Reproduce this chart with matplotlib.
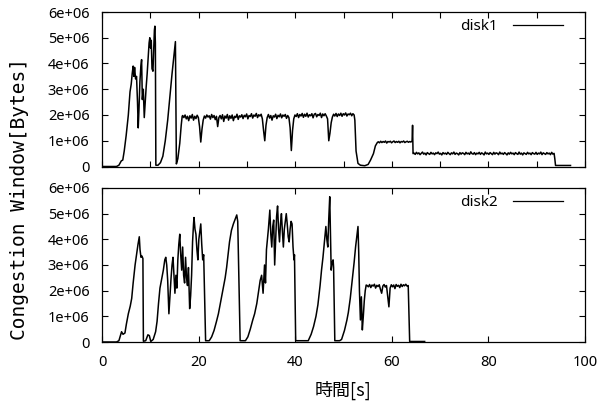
import numpy as np
import matplotlib
matplotlib.use("Agg")
import matplotlib.pyplot as plt

# ---------------- data (time [s], cwnd [1e6 bytes]) ----------------
disk1_ramp_t = [0, 3.0, 3.5, 4.0, 4.3, 4.6, 5.0, 5.45, 5.8, 6.05, 6.25, 6.45, 6.6, 6.75, 6.95,
                7.15, 7.35, 7.5, 7.65, 7.85, 8.05, 8.2, 8.35, 8.55, 8.75, 8.95, 9.15, 9.35, 9.55,
                9.75, 9.9, 10.05, 10.2, 10.35, 10.55, 10.7, 10.85, 10.95, 11.05, 11.15, 11.6, 12.1,
                12.6, 13.1, 13.6, 14.1, 14.5, 14.9, 15.2, 15.4, 15.7, 16.1, 16.4, 16.6]
disk1_ramp_v = [0, 0, 0.05, 0.22, 0.25, 0.6, 1.2, 2.0, 2.9, 3.2, 3.6, 3.9, 3.5, 3.85, 3.4,
                3.5, 2.5, 1.5, 2.2, 3.3, 3.9, 4.15, 2.6, 3.0, 1.9, 2.5, 3.1, 3.6, 4.2,
                4.8, 5.0, 4.6, 4.9, 3.8, 3.7, 4.5, 5.3, 5.45, 4.8, 0.05, 0.05, 0.15,
                0.4, 1.0, 1.8, 2.8, 3.6, 4.3, 4.85, 0.1, 0.3, 0.9, 1.6, 1.95]
disk1_plat1_start = 16.7
disk1_plat1_step = 0.25
disk1_plat1 = [1.98, 1.90, 2.00, 1.85, 1.95, 1.78, 1.97, 1.88, 2.02, 1.80,
               1.95, 1.86, 1.99, 1.90, 1.55, 0.95, 1.45, 1.80, 1.96, 1.88,
               2.00, 1.92, 1.97, 1.84, 2.02, 1.90, 1.98, 1.82, 1.95, 1.55,
               1.90, 1.98, 1.85, 2.01, 1.75, 1.96, 1.88, 2.02, 1.80, 1.97,
               1.87, 2.00, 1.78, 1.95, 1.90, 2.03, 1.83, 1.97, 1.92, 2.01,
               1.86, 1.99, 1.93, 2.04, 1.85, 1.98, 1.94, 2.05, 1.88, 2.00,
               1.95, 2.06, 1.90, 2.01, 1.96, 2.03, 1.85, 1.40, 1.00, 1.60,
               1.90, 2.02, 1.88, 1.98, 1.80, 1.97, 1.92, 2.03, 1.86, 1.99,
               1.93, 2.04, 1.89, 2.00, 1.95, 2.02, 1.87, 1.98, 1.90, 1.50,
               0.62, 1.40, 1.85, 2.00, 1.94, 2.05, 1.90, 2.02, 1.96, 2.06,
               1.91, 2.03, 1.95, 2.07, 1.92, 2.01, 1.97, 2.05, 1.89, 2.03,
               2.06, 1.93, 2.02, 1.98, 2.07, 1.90, 2.04, 1.97, 2.05, 1.96,
               1.85, 1.00, 1.30, 1.70, 1.92, 2.03, 1.96, 2.06, 1.94, 2.04,
               1.98, 2.07, 1.95, 2.05, 2.00, 2.08, 1.96, 2.04, 2.01, 2.07,
               1.97, 2.05, 2.00]
disk1_drop_t = [52.35, 52.6, 53.0, 53.5, 54.4, 55.1, 55.6, 56.2, 56.6, 57.0]
disk1_drop_v = [1.8, 0.6, 0.12, 0.05, 0.03, 0.08, 0.25, 0.5, 0.8, 0.93]
disk1_plat2_start = 57.2
disk1_plat2_step = 0.25
disk1_plat2 = [0.96, 0.92, 0.98, 0.93, 0.97, 0.94, 0.99, 0.91, 0.97, 0.95,
               0.98, 0.92, 0.96, 0.99, 0.93, 0.97, 0.94, 0.98, 0.92, 0.97,
               0.95, 0.99, 0.93, 0.96, 0.98, 0.94, 0.97, 0.95, 0.99]
disk1_spike_t = [64.3, 64.4]
disk1_spike_v = [1.6, 0.5]
disk1_plat3_start = 64.6
disk1_plat3_step = 0.25
disk1_plat3 = [0.52, 0.47, 0.55, 0.49, 0.53, 0.46, 0.51, 0.56, 0.48, 0.52,
               0.45, 0.54, 0.50, 0.47, 0.55, 0.49, 0.52, 0.46, 0.53, 0.50,
               0.56, 0.48, 0.51, 0.45, 0.54, 0.49, 0.52, 0.47, 0.55, 0.50,
               0.46, 0.53, 0.49, 0.56, 0.47, 0.52, 0.50, 0.45, 0.54, 0.48,
               0.53, 0.51, 0.46, 0.55, 0.49, 0.52, 0.47, 0.57, 0.50, 0.48,
               0.54, 0.46, 0.52, 0.49, 0.55, 0.47, 0.53, 0.50, 0.45, 0.56,
               0.49, 0.52, 0.47, 0.54, 0.50, 0.46, 0.55, 0.48, 0.53, 0.51,
               0.46, 0.56, 0.49, 0.52, 0.47, 0.54, 0.50, 0.45, 0.53, 0.48,
               0.55, 0.49, 0.52, 0.46, 0.54, 0.50, 0.47, 0.56, 0.48, 0.52,
               0.45, 0.53, 0.50, 0.47, 0.55, 0.49, 0.52, 0.46, 0.54, 0.50,
               0.48, 0.55, 0.47, 0.52, 0.49, 0.56, 0.46, 0.53, 0.50, 0.47,
               0.54, 0.49, 0.52, 0.46, 0.55, 0.48, 0.51]
disk1_tail_t = [93.75, 93.9, 97.0]
disk1_tail_v = [0.3, 0.04, 0.04]

disk2_ramp_t = [0, 3.0, 3.5, 4.05, 4.35, 4.75, 5.05, 5.45, 5.85, 6.15, 6.45, 6.85, 7.15, 7.45, 7.72,
                7.87, 8.07, 8.27, 8.47, 8.57, 9.05, 9.5, 9.8, 10.1, 10.6, 11.1, 11.4, 11.7, 12.0,
                12.3, 12.7, 13.0, 13.2, 13.4, 13.6, 13.85, 14.1, 14.3, 14.5, 14.7, 14.9, 15.1,
                15.3, 15.5, 15.7, 15.9, 16.1, 16.3, 16.5, 16.7, 16.9, 17.1, 17.3, 17.5, 17.7,
                17.9, 18.15, 18.35, 18.55, 18.75, 18.95, 19.05, 19.25, 19.45, 19.65, 19.85,
                20.05, 20.25, 20.45, 20.65, 20.85, 21.05, 21.45, 22.2, 22.7, 23.2, 23.7, 24.1,
                24.6, 25.1, 25.5, 25.8, 26.1, 26.4, 26.8, 27.2, 27.6, 27.9, 28.1, 28.6, 29.7,
                30.2, 30.7, 31.2, 31.6, 32.05, 32.45, 32.75, 33.05, 33.25, 33.35, 33.55, 33.65,
                33.85, 34.05, 34.25, 34.45, 34.65, 34.75, 34.95, 35.15, 35.35, 35.55, 35.75,
                35.95, 36.15, 36.35, 36.55, 36.75, 36.95, 37.15, 37.35, 37.55, 37.75, 37.95,
                38.15, 38.35, 38.55, 38.75, 38.95, 39.15, 39.35, 39.55, 39.75, 39.85, 40.1,
                42.7, 43.3, 43.8, 44.3, 44.7, 45.15, 45.45, 45.75, 46.05, 46.35, 46.55, 46.75,
                46.95, 47.15, 47.3, 47.45, 47.65, 47.85, 47.95, 48.2, 49.2, 49.6, 50.2, 50.7,
                51.0, 51.4, 51.8, 52.2, 52.5, 52.8, 53.0, 53.15, 53.3, 53.5, 53.7, 53.9, 54.1,
                54.3, 54.5, 54.7]
disk2_ramp_v = [0, 0, 0.05, 0.4, 0.3, 0.35, 0.7, 1.1, 1.4, 1.7, 2.3, 3.0, 3.4, 3.8, 4.1,
                3.6, 3.3, 3.35, 3.25, 0.03, 0.05, 0.28, 0.25, 0.02, 0.1, 0.4, 0.8, 1.5, 2.1,
                2.4, 2.8, 3.2, 3.3, 3.0, 2.4, 1.1, 1.9, 2.5, 3.0, 3.3, 2.6, 1.9,
                2.6, 2.1, 3.2, 3.8, 4.2, 3.4, 2.8, 3.7, 2.6, 2.3, 3.3, 2.5, 2.2,
                2.9, 1.3, 1.8, 2.6, 3.9, 4.6, 4.85, 4.4, 4.2, 3.6, 3.2,
                4.0, 4.3, 4.6, 3.8, 3.2, 3.4, 0.05, 0.05, 0.2, 0.45, 0.8, 1.1,
                1.6, 2.1, 2.5, 2.9, 3.4, 3.9, 4.35, 4.6, 4.8, 4.95, 4.7, 0.05, 0.05,
                0.2, 0.5, 0.85, 1.1, 1.5, 2.0, 2.4, 2.6, 2.1, 1.9, 2.6, 3.0,
                2.3, 3.6, 4.0, 4.4, 4.9, 5.14, 4.2, 3.7, 4.5, 4.75, 3.0,
                4.0, 4.9, 5.3, 4.4, 3.9, 4.6, 5.0, 4.3, 3.7, 4.4, 4.7,
                5.0, 4.6, 4.1, 3.9, 4.4, 4.7, 4.6, 3.7, 3.2, 3.4, 0.05,
                0.05, 0.3, 0.6, 1.0, 1.45, 2.2, 2.8, 3.3, 3.9, 4.5, 4.0, 3.7,
                4.8, 5.66, 4.2, 2.8, 3.1, 3.2, 2.9, 0.05, 0.05, 0.1, 0.45, 0.85,
                1.15, 1.7, 2.4, 3.1, 3.7, 4.2, 4.5, 3.5, 2.0, 0.86, 1.76, 0.47, 1.0,
                1.6, 2.0, 2.22]
disk2_plat_start = 54.9
disk2_plat_step = 0.25
disk2_plat = [2.20, 2.15, 2.24, 2.12, 2.22, 2.18, 2.25, 2.10, 2.21, 2.16,
              2.23, 2.05, 1.90, 2.18, 2.24, 2.14, 2.20, 1.80, 1.37, 2.10,
              2.23, 2.15, 2.22, 2.08, 2.24, 2.17, 2.21, 2.12, 2.25, 2.16,
              2.23, 2.19, 2.25, 2.18]
disk2_tail_t = [63.4, 63.7, 66.8]
disk2_tail_v = [2.2, 0.02, 0.02]

y_ticks = [0, 1e6, 2e6, 3e6, 4e6, 5e6, 6e6]
y_ticklabels = ["0", "1e+06", "2e+06", "3e+06", "4e+06", "5e+06", "6e+06"]
x_ticks_bottom = [0, 20, 40, 60, 80, 100]
x_ticks_top = [0, 10, 20, 30, 40, 50, 60, 70, 80, 90, 100]


def plateau_times(start, step, values):
    return list(start + step * np.arange(len(values)))


t1 = (disk1_ramp_t + plateau_times(disk1_plat1_start, disk1_plat1_step, disk1_plat1)
      + disk1_drop_t + plateau_times(disk1_plat2_start, disk1_plat2_step, disk1_plat2)
      + disk1_spike_t + plateau_times(disk1_plat3_start, disk1_plat3_step, disk1_plat3)
      + disk1_tail_t)
v1 = (disk1_ramp_v + disk1_plat1 + disk1_drop_v + disk1_plat2 + disk1_spike_v
      + disk1_plat3 + disk1_tail_v)
t2 = (disk2_ramp_t + plateau_times(disk2_plat_start, disk2_plat_step, disk2_plat)
      + disk2_tail_t)
v2 = disk2_ramp_v + disk2_plat + disk2_tail_v
v1 = np.array(v1) * 1e6
v2 = np.array(v2) * 1e6

# ---------------- figure ----------------
plt.rcParams['font.family'] = ['Noto Sans', 'Noto Sans CJK JP', 'DejaVu Sans']
W, H = 612, 405
fig = plt.figure(figsize=(W / 100, H / 100), dpi=100)

left = 102 / W
width = (585 - 102) / W
ax1 = fig.add_axes([left, 1 - 166.5 / H, width, (166.5 - 12) / H])
ax2 = fig.add_axes([left, 1 - 342 / H, width, (342 - 188) / H])

for ax, t, v, lab, xt in ((ax1, t1, v1, 'disk1', x_ticks_top),
                          (ax2, t2, v2, 'disk2', x_ticks_bottom)):
    ax.plot(t, v, color='black', lw=1.1, label=lab)
    ax.set_xlim(0, 100)
    ax.set_ylim(0, 6e6)
    ax.set_yticks(y_ticks)
    ax.set_yticklabels(y_ticklabels)
    ax.set_xticks(xt)
    ax.tick_params(direction='in', length=4, width=0.8, top=True, right=True,
                   labelsize=10.5, pad=9, color='black')
    for s in ax.spines.values():
        s.set_linewidth(0.9)
        s.set_color('black')
    leg = ax.legend(loc='center right', bbox_to_anchor=((563 - 102) / 483, 0.903),
                    frameon=False, markerfirst=False, handlelength=3.3,
                    handletextpad=1.0, borderpad=0, borderaxespad=0, fontsize=11)
    for ln in leg.get_lines():
        ln.set_linewidth(0.9)

ax1.tick_params(labelbottom=False)
ax2.set_xticklabels([str(x) for x in x_ticks_bottom])

ax2.set_xlabel('時間[s]', fontsize=13, labelpad=8,
               family=['Noto Sans CJK JP', 'DejaVu Sans'])
fig.text(20 / W, 1 - 199 / H, 'Congestion Window[Bytes]', rotation=90,
         ha='center', va='center', fontsize=14, family=['DejaVu Sans Mono'])

fig.savefig('out.png', dpi=100)
